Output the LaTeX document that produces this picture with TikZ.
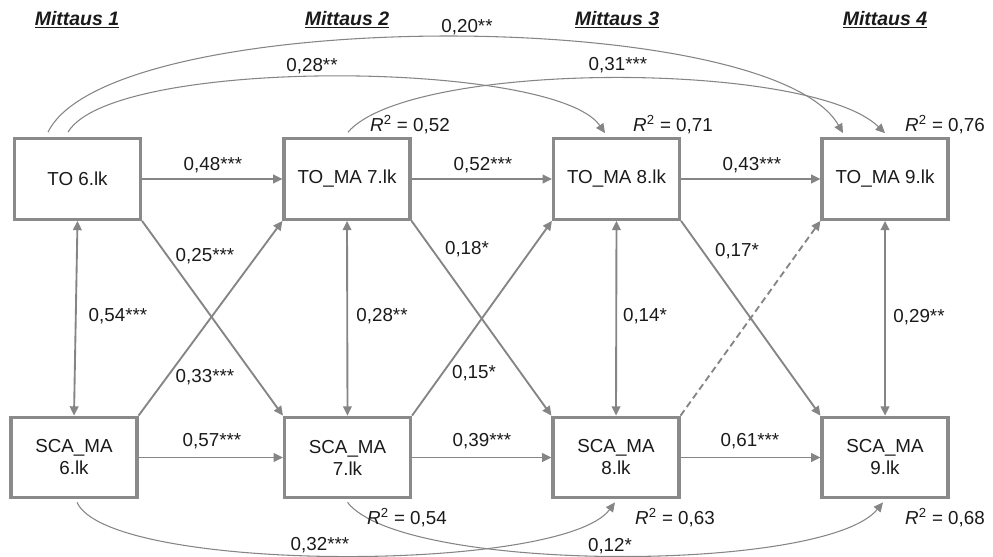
\documentclass[tikz,border=0pt]{standalone}
\usepackage{fontspec}
\setmainfont{Liberation Sans}
\usetikzlibrary{arrows.meta,calc}
\definecolor{boxgray}{HTML}{8A8A8A}
\definecolor{linegray}{HTML}{858585}
\definecolor{txt}{HTML}{1A1A1A}
\begin{document}
\begin{tikzpicture}[x=0.75pt,y=-0.75pt,
  font=\fontsize{14.1pt}{16.5pt}\selectfont, text=txt,
  varbox/.style={draw=boxgray, line width=2.3pt, minimum width=94.5pt, minimum height=60.5pt, align=center, inner sep=0pt},
  path/.style={draw=linegray, line width=1.4pt, -{Triangle[length=7pt,width=6.5pt]}},
  corr/.style={draw=linegray, line width=1.4pt, {Triangle[length=7pt,width=6.5pt]}-{Triangle[length=7pt,width=6.5pt]}},
  curvepath/.style={draw=linegray, line width=0.8pt, -{Triangle[length=7pt,width=6.5pt]}},
  lbl/.style={inner sep=0pt},
  title/.style={inner sep=0pt, font=\fontsize{14.6pt}{17pt}\selectfont\bfseries\itshape}
]
\useasboundingbox (0,0) rectangle (993,557);

% titles
\node[title] (m1) at (77,20) {\underline{Mittaus 1}};
\node[title] (m2) at (347,20) {\underline{Mittaus 2}};
\node[title] (m3) at (617,20) {\underline{Mittaus 3}};
\node[title] (m4) at (885,20) {\underline{Mittaus 4}};

% boxes
\node[varbox] (to1) at (77.5,179) {TO 6.lk};
\node[varbox] (to2) at (347,179) {TO\_MA 7.lk};
\node[varbox] (to3) at (616.5,179) {TO\_MA 8.lk};
\node[varbox] (to4) at (885,179) {TO\_MA 9.lk};
\node[varbox] (sca1) at (74,457.5) {SCA\_MA\\6.lk};
\node[varbox] (sca2) at (347.5,457.5) {SCA\_MA\\7.lk};
\node[varbox] (sca3) at (616,457.5) {SCA\_MA\\8.lk};
\node[varbox] (sca4) at (885,457.5) {SCA\_MA\\9.lk};

% horizontal paths
\draw[path] (to1.east) -- (to2.west);
\draw[path] (to2.east) -- (to3.west);
\draw[path] (to3.east) -- (to4.west);
\draw[path] (sca1.east) -- (sca2.west);
\draw[path] (sca2.east) -- (sca3.west);
\draw[path] (sca3.east) -- (sca4.west);

% correlations
\draw[corr] (to1.south) -- (sca1.north);
\draw[corr] (to2.south) -- (sca2.north);
\draw[corr] (to3.south) -- (sca3.north);
\draw[corr] (to4.south) -- (sca4.north);

% cross-lagged
\draw[path] (to1.south east) -- (sca2.north west);
\draw[path] (sca1.north east) -- (to2.south west);
\draw[path] (to2.south east) -- (sca3.north west);
\draw[path] (sca2.north east) -- (to3.south west);
\draw[path] (to3.south east) -- (sca4.north west);
\draw[path, dash pattern=on 5pt off 3pt] (sca3.north east) -- (to4.south west);

% long curves top
\draw[curvepath] ($(to1.north)+(-29.5,-5)$) .. controls +(62,-127) and +(-73,-128) .. ($(to4.north)+(-42,-4)$);
\draw[curvepath] ($(to1.north)+(-9.5,-5)$) .. controls +(45,-76) and +(-50,-73) .. ($(to3.north)+(-11.5,-4)$);
\draw[curvepath] ($(to2.north)+(1,-5)$) .. controls +(62,-72) and +(-75,-73) .. ($(to4.north)+(0,-4)$);
% long curves bottom
\draw[curvepath] ($(sca1.south)+(3,3)$) .. controls +(32,71) and +(-53,71) .. ($(sca3.south)+(-1,3)$);
\draw[curvepath] ($(sca2.south)+(0,3)$) .. controls +(55,71) and +(-58,71) .. ($(sca4.south)+(-2,3)$);

% labels
\node[lbl] (l20) at (467,27) {0,20**};
\node[lbl] (l28a) at (312,66) {0,28**};
\node[lbl] (l31) at (618,65) {0,31***};
\node[lbl] (l48) at (213,165) {0,48***};
\node[lbl] (l52) at (483,165) {0,52***};
\node[lbl] (l43) at (752,165) {0,43***};
\node[lbl] (l57) at (212,441) {0,57***};
\node[lbl] (l39) at (482,441) {0,39***};
\node[lbl] (l61) at (750,441) {0,61***};
\node[lbl] (l25) at (205,256) {0,25***};
\node[lbl] (l33) at (205,377) {0,33***};
\node[lbl] (l54) at (118,316) {0,54***};
\node[lbl] (l28b) at (382,316) {0,28**};
\node[lbl] (l18) at (467,249) {0,18*};
\node[lbl] (l15) at (474,373) {0,15*};
\node[lbl] (l14) at (645,316) {0,14*};
\node[lbl] (l17) at (737,251) {0,17*};
\node[lbl] (l29) at (919,317) {0,29**};
\node[lbl] (l32) at (320,545) {0,32***};
\node[lbl] (l12) at (610,546) {0,12*};

% R squared
\node[lbl] (r2a) at (410,125) {\textit{R}\textsuperscript{2} = 0,52};
\node[lbl] (r3a) at (673,125) {\textit{R}\textsuperscript{2} = 0,71};
\node[lbl] (r4a) at (945,125) {\textit{R}\textsuperscript{2} = 0,76};
\node[lbl] (r2b) at (407,518) {\textit{R}\textsuperscript{2} = 0,54};
\node[lbl] (r3b) at (675,518) {\textit{R}\textsuperscript{2} = 0,63};
\node[lbl] (r4b) at (945,518) {\textit{R}\textsuperscript{2} = 0,68};
\end{tikzpicture}
\end{document}
